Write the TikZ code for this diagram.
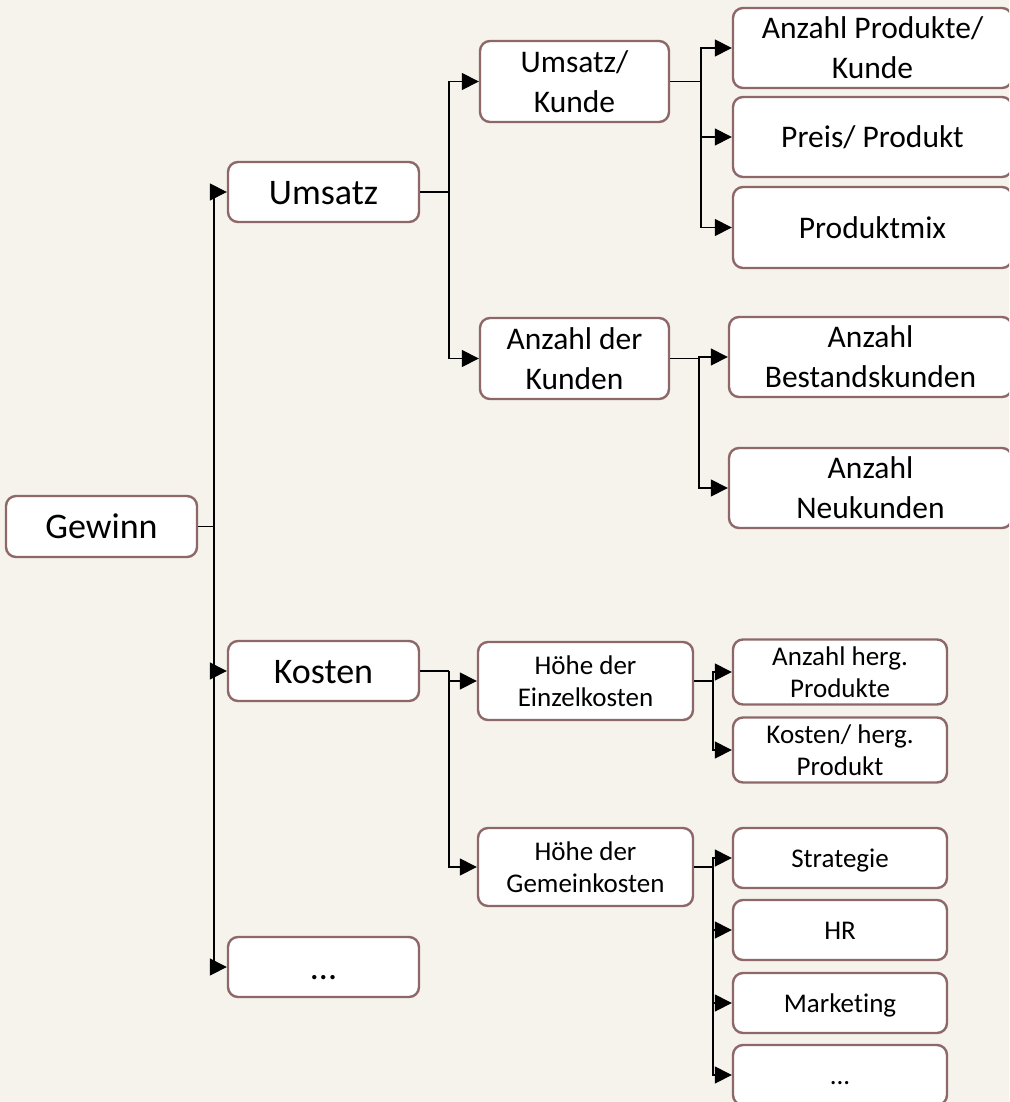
\documentclass[tikz,border=0pt]{standalone}
\usepackage{fontspec}
\setmainfont[Ligatures={TeX,NoCommon}]{Carlito}
\usetikzlibrary{arrows.meta}
\definecolor{bgcol}{HTML}{F6F3EC}
\definecolor{bordercol}{HTML}{8E6868}
\newcommand{\twol}[2]{\begin{tabular}[t]{@{}c@{}}#1\\#2\end{tabular}}
\tikzset{
  box/.style={draw=bordercol, line width=2.4pt, fill=white, rounded corners=10pt, inner sep=0pt},
  big/.style={box, font=\fontsize{36}{44}\selectfont, text height=34.3pt, text depth=9.7pt},
  med/.style={box, font=\fontsize{31.5}{40}\selectfont, text height=30pt, text depth=8.5pt},
  medtwo/.style={box, font=\fontsize{31.5}{40}\selectfont, text height=30pt, text depth=48.5pt},
  sml/.style={box, font=\fontsize{27}{32}\selectfont, text height=25.7pt, text depth=7.3pt},
  smltwo/.style={box, font=\fontsize{27}{32}\selectfont, text height=25.7pt, text depth=39.3pt},
  arr/.style={draw=black, line width=1.5pt, -{Triangle[length=17pt,width=17pt]}},
  ln/.style={draw=black, line width=1.5pt}
}
\begin{document}
\begin{tikzpicture}[x=1pt,y=-1pt]
\fill[bgcol] (0,0) rectangle (1009,1102);
\useasboundingbox (0,0) rectangle (1009,1102);
\clip (0,0) rectangle (1009,1102);
% level 0/1
\node[big, minimum width=191pt, minimum height=61pt] (gewinn) at (101.5,526.5) {Gewinn};
\node[big, minimum width=191pt, minimum height=60pt] (umsatz) at (323.5,192) {Umsatz};
\node[big, minimum width=191pt, minimum height=60pt] (kosten) at (323.5,671) {Kosten};
\node[big, minimum width=191pt, minimum height=60pt] (dotsa) at (323.5,967) {...};
% level 2
\node[medtwo, minimum width=189pt, minimum height=81pt] (uk) at (574.5,81.5) {\twol{Umsatz/}{Kunde}};
\node[medtwo, minimum width=189pt, minimum height=81pt] (adk) at (574.5,358.5) {\twol{Anzahl der}{Kunden}};
\node[smltwo, minimum width=215pt, minimum height=78pt] (hek) at (585.5,681) {\twol{Höhe der}{Einzelkosten}};
\node[smltwo, minimum width=215pt, minimum height=78pt] (hgk) at (585.5,867) {\twol{Höhe der}{Gemeinkosten}};
% level 3 (Umsatz)
\node[medtwo, minimum width=279pt, minimum height=80pt] (apk) at (872.5,48) {\twol{Anzahl Produkte/}{Kunde}};
\node[med, minimum width=279pt, minimum height=80pt] (pp) at (872.5,137) {Preis/ Produkt};
\node[med, minimum width=279pt, minimum height=81pt] (pm) at (872.5,227.5) {Produktmix};
\node[medtwo, minimum width=283pt, minimum height=80pt] (abk) at (870.5,357) {\twol{Anzahl}{Bestandskunden}};
\node[medtwo, minimum width=283pt, minimum height=80pt] (ank) at (870.5,488) {\twol{Anzahl}{Neukunden}};
% level 3 (Kosten)
\node[smltwo, minimum width=214pt, minimum height=60pt] (ahp) at (840,672) {\twol{Anzahl herg.}{Produkte}};
\node[smltwo, minimum width=214pt, minimum height=60pt] (khp) at (840,750) {\twol{Kosten/ herg.}{Produkt}};
\node[sml, minimum width=214pt, minimum height=60pt] (str) at (840,858) {Strategie};
\node[sml, minimum width=214pt, minimum height=60pt] (hr) at (840,930) {HR};
\node[sml, minimum width=214pt, minimum height=60pt] (mkt) at (840,1003) {Marketing};
\node[sml, minimum width=214pt, minimum height=60pt] (dotsb) at (840,1075) {...};
% branch points
\coordinate (gb) at (214,526.5);
\coordinate (ub) at (449,192);
\coordinate (kb) at (449,671);
\coordinate (ukb) at (701,81.5);
\coordinate (adkb) at (699,358.5);
\coordinate (hekb) at (713,681);
\coordinate (hgkb) at (713,867);
% connectors
\draw[ln] (gewinn.east) -- (gb);
\draw[arr] (gb) |- (umsatz.west);
\draw[arr] (gb) |- (kosten.west);
\draw[arr] (gb) |- (dotsa.west);
\draw[ln] (umsatz.east) -- (ub);
\draw[arr] (ub) |- (uk.west);
\draw[arr] (ub) |- (adk.west);
\draw[ln] (kosten.east) -- (kb);
\draw[arr] (kb) |- (hek.west);
\draw[arr] (kb) |- (hgk.west);
\draw[ln] (uk.east) -- (ukb);
\draw[arr] (ukb) |- (apk.west);
\draw[arr] (ukb) |- (pp.west);
\draw[arr] (ukb) |- (pm.west);
\draw[ln] (adk.east) -- (adkb);
\draw[arr] (adkb) |- (abk.west);
\draw[arr] (adkb) |- (ank.west);
\draw[ln] (hek.east) -- (hekb);
\draw[arr] (hekb) |- (ahp.west);
\draw[arr] (hekb) |- (khp.west);
\draw[ln] (hgk.east) -- (hgkb);
\draw[arr] (hgkb) |- (str.west);
\draw[arr] (hgkb) |- (hr.west);
\draw[arr] (hgkb) |- (mkt.west);
\draw[arr] (hgkb) |- (dotsb.west);
\end{tikzpicture}
\end{document}
